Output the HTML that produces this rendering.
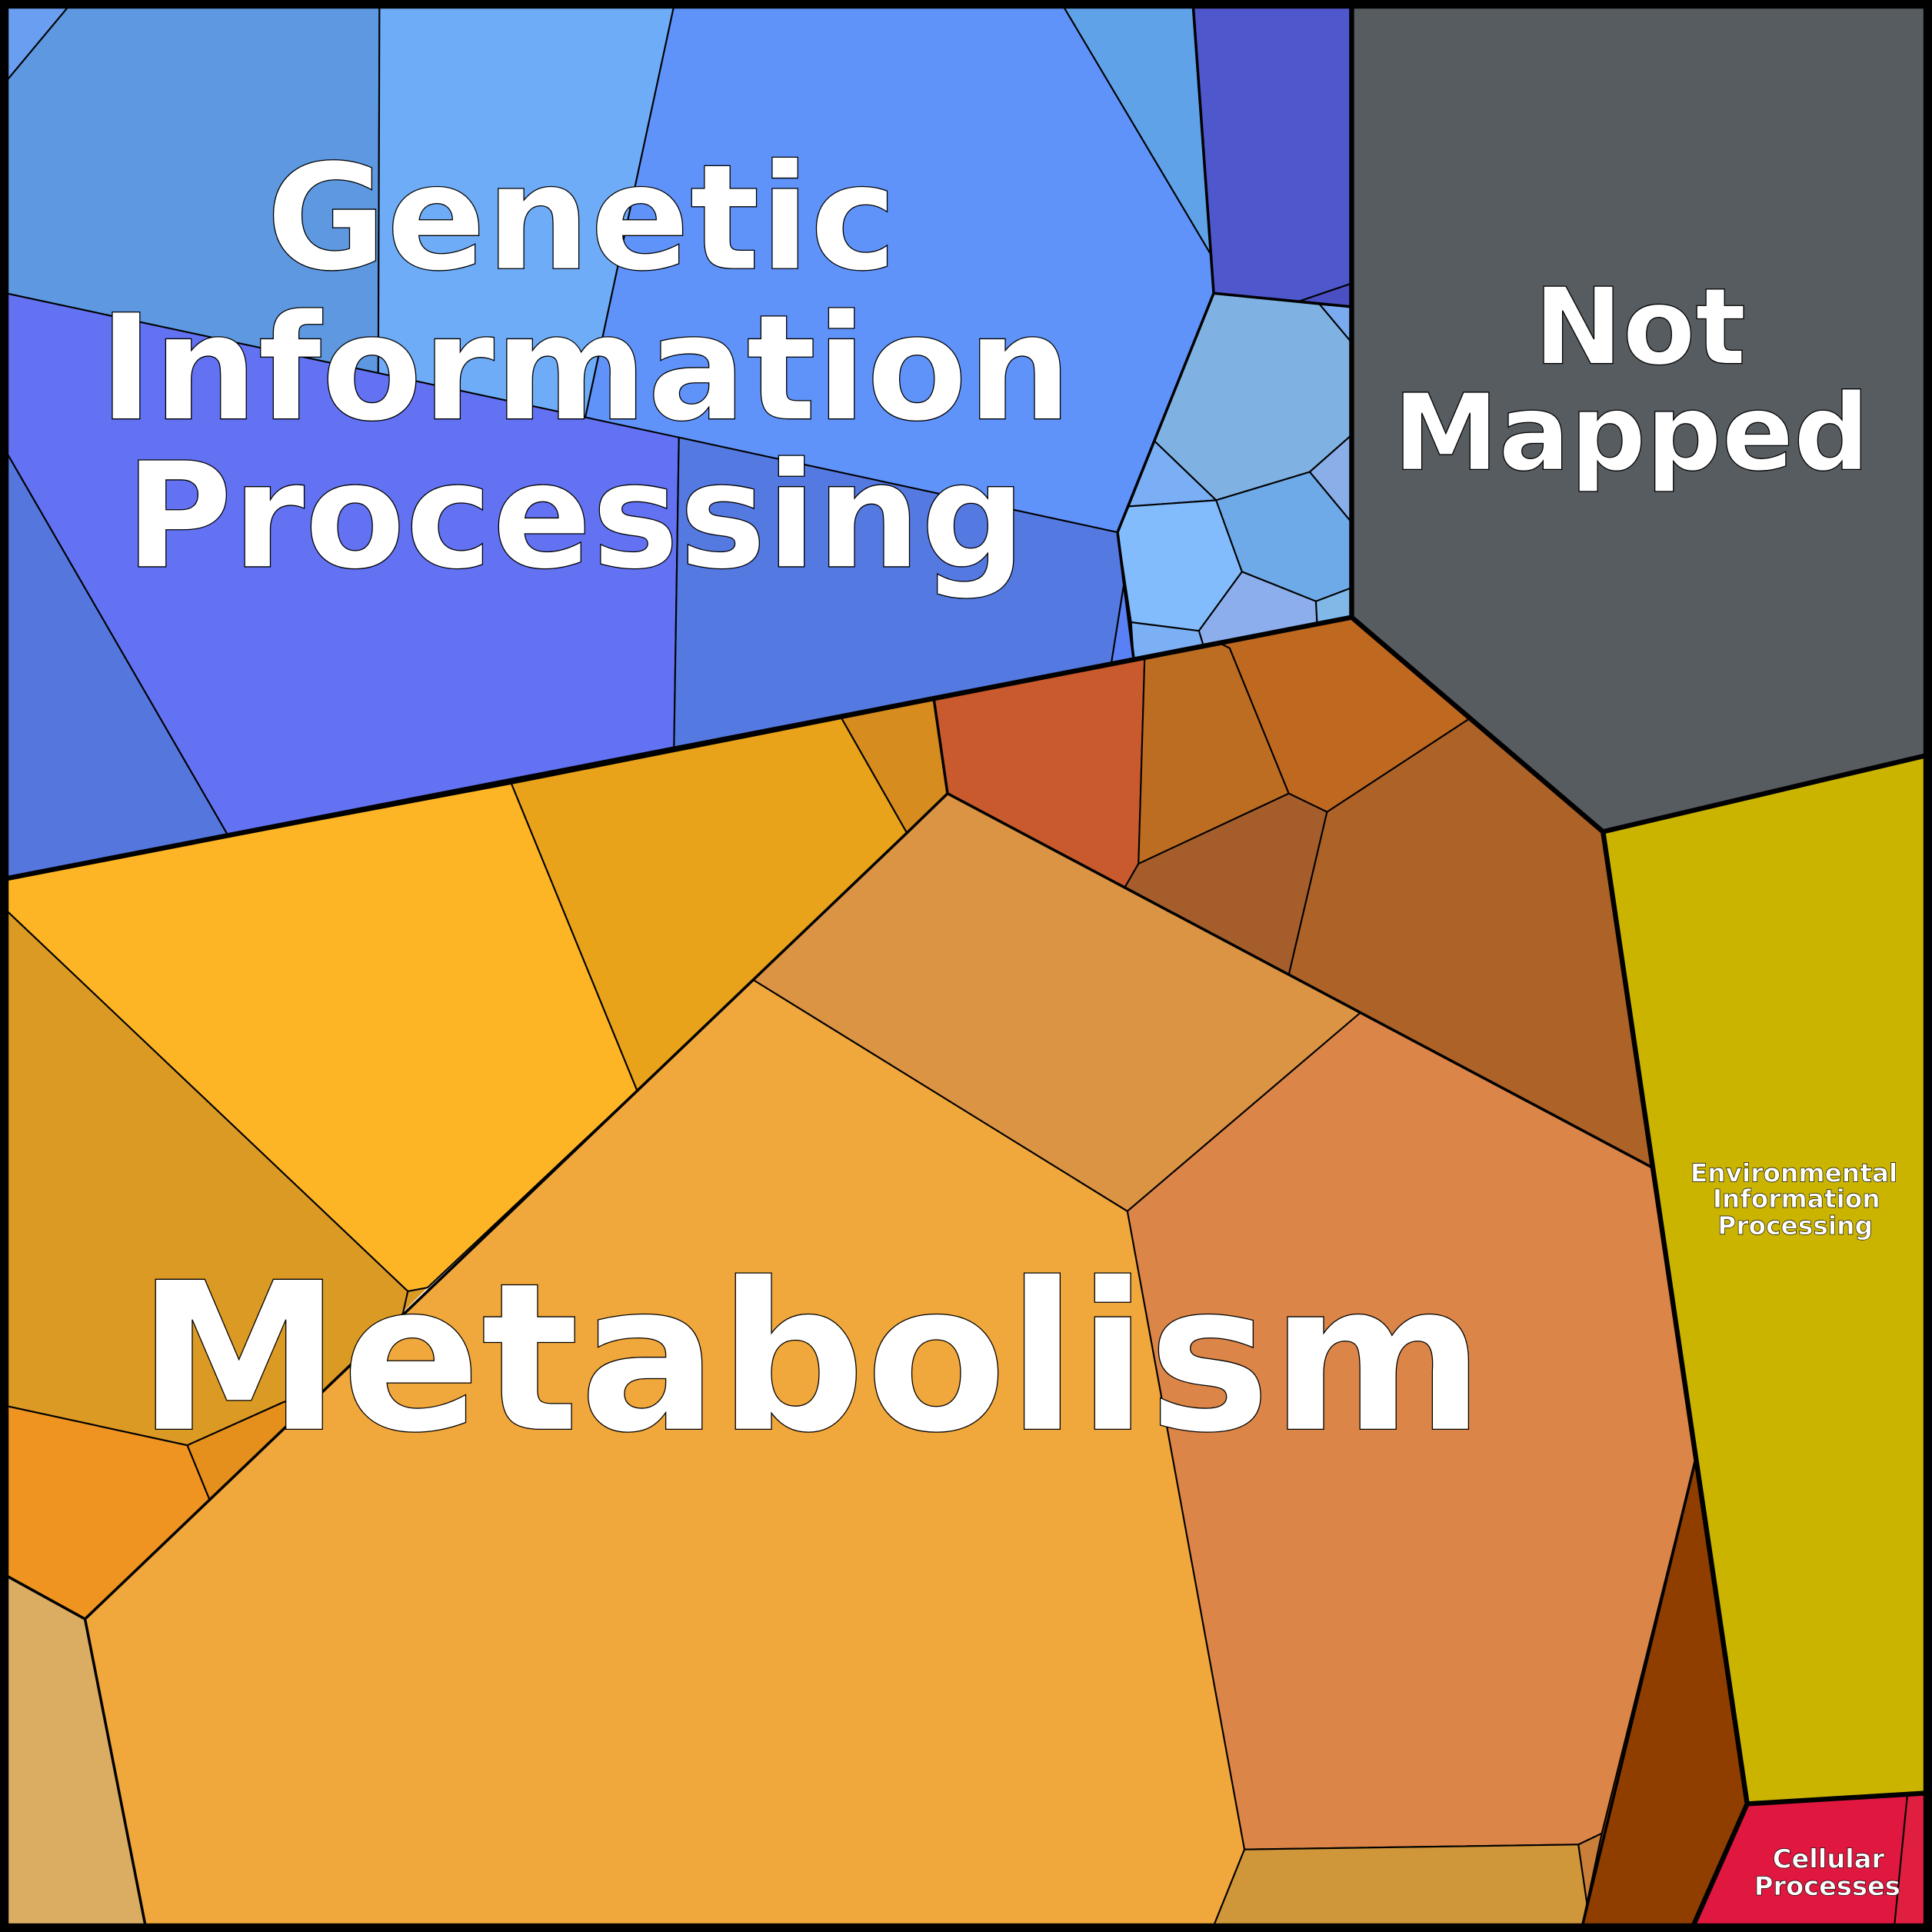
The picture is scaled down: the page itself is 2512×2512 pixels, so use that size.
<!DOCTYPE html>
<html><head><meta charset="utf-8"><style>html,body{margin:0;padding:0;background:#fff}svg{display:block}</style></head>
<body>
<svg width="2512" height="2512" viewBox="0 0 1568 1568" xmlns="http://www.w3.org/2000/svg">
<polygon fill="#8caeec" points="900,480 1097,470 1097,501 900,540"/>
<polygon fill="#bf6820" points="900,540 1097,501 1100,560 900,560"/>
<polygon fill="#db9a24" points="150,1040 347,1045 264,1128 150,1180"/>
<g stroke="#000" stroke-width="1.3" stroke-linejoin="round">
<!-- GIP -->
<polygon fill="#6a9ef0" points="0,0 60,0 0,72"/>
<polygon fill="#5d98e0" points="0,72 60,0 308,0 307,303 0,237"/>
<polygon fill="#6eacf7" points="308,0 548,0 475,339 307,303"/>
<polygon fill="#5f93fa" points="548,0 860,0 983,207 985,238 907,432 475,339"/>
<polygon fill="#5fa2e8" points="860,0 968,0 983,207"/>
<polygon fill="#4f57cc" points="968,0 1097,0 1097,230 1053,245 985,238 983,207"/>
<polygon fill="#4a4fc4" points="1053,245 1097,230 1097,249"/>
<polygon fill="#6272f2" points="0,237 551,355 547,607 185,678 0,358"/>
<polygon fill="#5577dd" points="0,358 185,678 0,714"/>
<polygon fill="#5479e0" points="551,355 907,432 912,475 902,538 547,607"/>
<polygon fill="#5a80f5" points="912,475 920,534 902,538"/>
<polygon fill="#7fb2e2" points="985,238 1071,247 1097,278 1097,353 1063,383 987,406 937,358"/>
<polygon fill="#7aaaf0" points="1071,247 1097,249 1097,278"/>
<polygon fill="#7aaef5" points="937,358 987,406 916,411"/>
<polygon fill="#82bcfc" points="916,411 987,406 1008,464 973,512 918,505 907,432"/>
<polygon fill="#6eaae8" points="987,406 1063,383 1097,424 1097,477 1068,488 1008,464"/>
<polygon fill="#8aaee8" points="1063,383 1097,353 1097,424"/>
<polygon fill="#8caeec" points="1008,464 1068,488 1069,507 977,525 973,512"/>
<polygon fill="#80b8e8" points="1068,488 1097,477 1097,501 1069,507"/>
<polygon fill="#7cb0f5" points="918,505 973,512 977,525 920,535"/>
<!-- Not mapped / Env / Cellular -->
<polygon fill="#575c60" points="1097,0 1568,0 1568,612 1301,675 1193,583 1097,501"/>
<polygon fill="#cab400" points="1301,675 1568,612 1568,1455 1418,1464"/>
<polygon fill="#e0173f" points="1418,1464 1548,1457 1537,1568 1372,1568"/>
<polygon fill="#e01f40" points="1548,1457 1568,1455 1568,1568 1537,1568"/>
<!-- Metabolism -->
<polygon fill="#c85a2e" points="758,568 929,534 924,701 913,720 769,644"/>
<polygon fill="#bd6d22" points="929,534 990,522 998,526 1046,644 924,701"/>
<polygon fill="#bf6820" points="990,522 1097,501 1193,583 1077,659 1046,644 998,526"/>
<polygon fill="#a55e2b" points="913,720 924,701 1046,644 1077,659 1046,791"/>
<polygon fill="#ad6228" points="1077,659 1193,583 1301,675 1340,947 1104,822 1046,791"/>
<polygon fill="#d68c1e" points="683,583 758,568 769,644 736,676"/>
<polygon fill="#e8a31a" points="415,636 683,583 736,676 517,885"/>
<polygon fill="#fdb526" points="0,714 415,636 517,885 347,1045 331,1048 0,734"/>
<polygon fill="#db9a24" points="0,734 331,1048 327,1066 264,1128 230,1138 152,1173 0,1140"/>
<polygon fill="#e5901c" points="152,1173 230,1138 264,1128 170,1217"/>
<polygon fill="#ef9420" points="0,1140 152,1173 170,1217 69,1314 0,1276"/>
<polygon fill="#dbad62" points="0,1276 69,1314 119,1568 0,1568"/>
<polygon fill="#f0a73c" points="69,1314 611,795 915,983 1010,1501 983,1568 119,1568"/>
<polygon fill="#db9344" points="611,795 736,676 769,644 913,720 1046,791 1104,822 915,983"/>
<polygon fill="#db8548" points="915,983 1104,822 1340,947 1376,1185 1300,1488 1281,1497 1010,1501"/>
<polygon fill="#cf963a" points="1010,1501 1281,1497 1288,1545 1283,1568 983,1568"/>
<polygon fill="#c97e3a" points="1281,1497 1300,1488 1288,1545"/>
<polygon fill="#8f3e00" points="1376,1185 1418,1464 1372,1568 1283,1568 1300,1488"/>
</g>
<g fill="none" stroke="#000" stroke-width="2.2" stroke-linejoin="round">
<polyline points="736,676 769,644 1340,947"/>
<polyline points="69,1314 347,1048 736,676"/>
<polyline points="0,1276 69,1314 119,1568"/>
<polyline points="1376,1185 1283,1568"/>
<polyline points="985,238 907,432 920,534"/>
<polyline points="758,568 769,644"/>
<polyline points="968,0 985,238 1097,249"/>
</g>
<g fill="none" stroke="#000" stroke-width="4" stroke-linejoin="round">
<polyline points="0,714 1097,501 1097,0"/>
<polyline points="1097,501 1301,675 1568,612"/>
<polyline points="1301,675 1418,1464 1568,1455"/>
<polyline points="1418,1464 1372,1568"/>
</g>
<rect x="3.5" y="3.5" width="1561" height="1561" fill="none" stroke="#000" stroke-width="7"/>
<g font-family="'DejaVu Sans','Liberation Sans',sans-serif" font-weight="bold" fill="#fff" stroke="#000" stroke-width="0.8" text-anchor="middle">
<text font-size="119" x="472" y="218">Genetic</text>
<text font-size="119" x="475" y="340">Information</text>
<text font-size="119" x="467" y="460">Processing</text>
<text font-size="86" x="1331" y="295">Not</text>
<text font-size="86" x="1324" y="381">Mapped</text>
<text font-size="167" x="658" y="1160">Metabolism</text>
<text font-size="20.5" stroke-width="0.4" x="1456" y="959">Environmental</text>
<text font-size="20.5" stroke-width="0.4" x="1458" y="980">Information</text>
<text font-size="20.5" stroke-width="0.4" x="1457" y="1002">Processing</text>
<text font-size="21" stroke-width="0.4" x="1484" y="1516">Cellular</text>
<text font-size="21" stroke-width="0.4" x="1483" y="1538">Processes</text>
</g>
</svg>
</body></html>
